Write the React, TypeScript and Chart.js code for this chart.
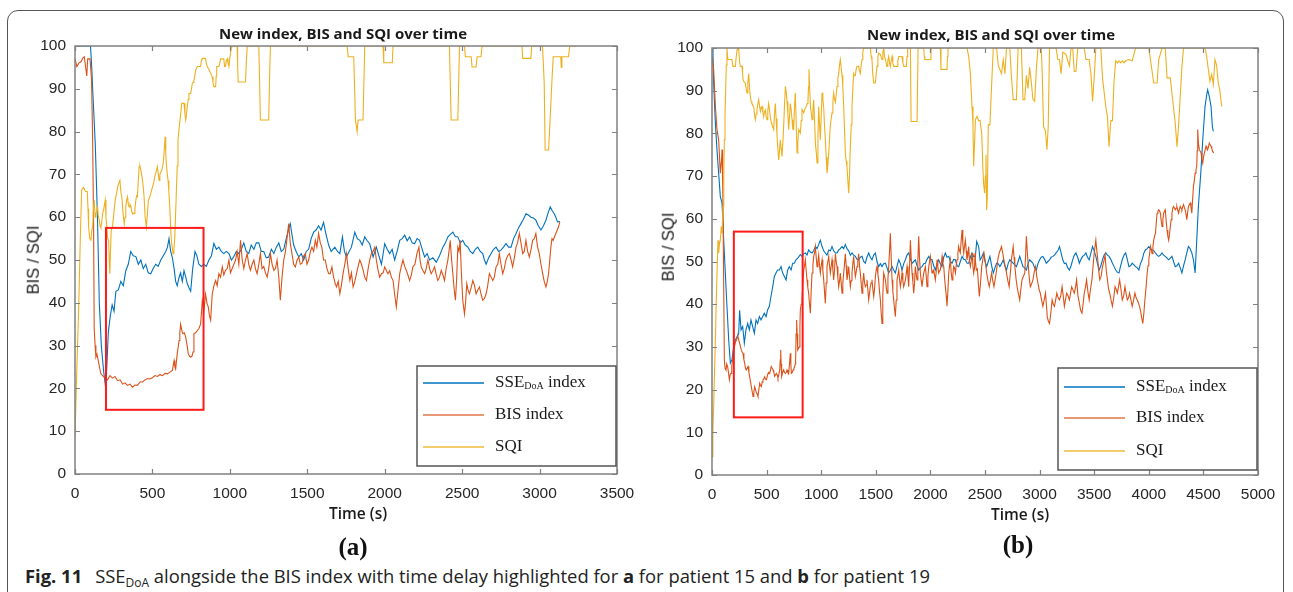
import React, { useEffect, useRef } from "react";
import { Chart, registerables } from "chart.js";

Chart.register(...registerables);

type Pt = [number, number];

// ---------------- Patient 15 (panel a) ----------------
const sse15: Pt[] = [[0,100],[100,100],[108,95],[114,90],[131,77],[145,60],[157,40],[170,30],[185,24],[195,21],[203,23],[215,33],[228,37],[240,39.5],[252,38],[264,42.7],[280,43],[296,45],[312,44],[328,47.5],[344,49],[360,52],[376,51],[393,50.8],[409,49],[425,50],[441,48],[457,49],[473,47],[489,46.8],[505,48],[521,49],[537,48.5],[554,50],[570,51],[586,52],[597,53],[607,55],[618,52],[629,50.5],[640,48],[650,45],[660,44],[671,45.8],[682,47],[693,45],[704,47.5],[715,46],[725,44.5],[736,43.5],[747,42.7],[760,48],[775,52],[787,51],[800,49],[816,48.5],[832,49],[848,48.5],[865,50],[881,51],[897,53.9],[913,52.5],[929,53],[945,52],[961,51.5],[977,52],[994,51.5],[1010,50],[1026,50.8],[1042,52],[1058,51.5],[1074,52.5],[1090,54],[1106,52],[1122,51.5],[1138,53.5],[1155,52.5],[1171,54],[1187,54],[1203,52],[1219,52],[1235,50.5],[1251,50.7],[1268,52.5],[1284,51.5],[1300,53],[1316,54],[1332,52],[1348,52.5],[1364,55],[1380,57.3],[1390,58.5],[1401,56],[1412,53.5],[1428,52],[1445,50.7],[1461,51.5],[1477,50],[1493,52],[1509,52.5],[1525,55],[1541,56.5],[1557,57],[1573,58],[1589,57],[1605,58.8],[1621,56],[1638,53.5],[1654,52],[1678,53],[1695,52],[1710,51.5],[1727,55.4],[1740,52],[1753,50.7],[1770,52],[1785,53],[1807,56.5],[1823,55],[1839,54.6],[1855,53.5],[1871,55.4],[1887,54.5],[1903,53.8],[1925,50.7],[1946,53],[1962,51],[1979,49],[2000,53.8],[2016,52.5],[2032,51.5],[2048,52.5],[2064,50],[2080,52],[2097,54.6],[2113,55],[2129,55.8],[2145,54.5],[2161,55.4],[2177,54],[2193,53.8],[2209,55],[2225,54.6],[2242,52.5],[2258,50.7],[2274,51.5],[2290,50],[2311,50.5],[2333,49.5],[2354,51],[2376,53],[2392,54],[2408,55.4],[2424,56],[2440,56.5],[2456,55.5],[2472,55.4],[2488,54],[2504,54.6],[2520,53.5],[2537,53],[2553,52],[2569,51.5],[2585,52.5],[2601,53],[2617,52],[2633,51.5],[2644,50],[2655,49],[2671,50.5],[2687,51.5],[2703,52.5],[2719,53],[2735,52],[2751,52.3],[2767,53],[2783,53.8],[2800,53],[2816,53],[2832,55],[2848,56.2],[2864,57.5],[2880,58.5],[2896,59.5],[2912,60.8],[2928,60.5],[2944,60],[2960,59.8],[2976,59.3],[2992,58],[3009,57],[3025,58],[3041,59.3],[3055,61],[3069,62.4],[3082,61.5],[3095,60.8],[3105,60],[3116,58.9],[3131,59]];

const bis15: Pt[] = [[0,97],[12,95.2],[25,96],[39,96.3],[50,97.2],[60,97.5],[71,94.4],[76,93],[82,97],[97,97],[107,92],[114,78],[120,58.5],[124,34],[130,30],[135,27.3],[142,28],[150,26.5],[158,25],[167,23.4],[178,23],[189,22.6],[200,22],[210,22],[226,23],[242,22.4],[258,22.8],[275,21.8],[291,22],[307,21],[323,21.3],[339,20.7],[355,21],[371,20.3],[387,20.8],[403,20.7],[420,21.5],[436,21.5],[452,22],[468,22.3],[484,22.2],[500,22.5],[516,23],[532,22.8],[548,23.2],[565,23],[581,23.5],[597,23.4],[613,23.8],[629,24.2],[635,25.5],[640,26.5],[645,25],[650,24.5],[660,28],[672,31.2],[677,33],[682,35],[690,33.5],[697,32.8],[706,33],[715,32],[724,30],[732,28],[740,27.5],[747,27.3],[755,27.5],[762,28.5],[768,32.8],[779,33],[790,33.5],[800,34],[811,35],[822,40.5],[832,38],[843,42],[852,40],[861,39],[868,37],[876,35.9],[886,42],[897,44],[908,45.2],[918,44],[929,46.8],[940,46],[951,48.4],[961,46.5],[972,47.6],[983,48],[994,50],[1004,47],[1015,48],[1026,49],[1037,50],[1047,52],[1058,49],[1069,54.6],[1080,50],[1090,48],[1101,50],[1112,51.5],[1122,49],[1133,47.6],[1144,49],[1155,50],[1165,48],[1176,46.8],[1187,49],[1197,51.5],[1208,48],[1219,48.5],[1230,47],[1241,46],[1251,48],[1262,51.5],[1273,49],[1284,47.6],[1294,48],[1305,50],[1316,46],[1326,40.6],[1337,46],[1348,50],[1359,52],[1369,55],[1380,58.5],[1390,54],[1401,51.5],[1412,49],[1423,48.4],[1434,50],[1445,50.7],[1455,49],[1466,49.2],[1477,51],[1487,51.5],[1498,49],[1509,50],[1520,52],[1530,53],[1541,52],[1552,54.6],[1562,53],[1573,56.2],[1584,54],[1594,53],[1605,50],[1616,50],[1627,48],[1638,46.8],[1648,46.8],[1659,48.4],[1670,46],[1680,44.5],[1689,43.7],[1700,45],[1710,42.1],[1720,44],[1731,46.8],[1742,49],[1753,51.5],[1764,48],[1775,45.2],[1785,47],[1796,43.7],[1807,45],[1818,46.8],[1828,48.5],[1839,50],[1850,49],[1861,47.6],[1871,46],[1882,45.2],[1893,48],[1903,50],[1914,51.5],[1925,52],[1936,53],[1946,50],[1957,47.6],[1968,46],[1979,46.8],[1990,47],[2000,48.4],[2011,47.5],[2021,46.8],[2032,47.5],[2043,46],[2054,45.2],[2064,42],[2075,39],[2086,43],[2097,46.8],[2107,48.5],[2118,50],[2129,48.5],[2139,47.6],[2150,46.5],[2161,45.2],[2172,46.5],[2182,48.4],[2195,49],[2208,51.5],[2221,53],[2228,50],[2236,48.4],[2247,47.5],[2258,46.8],[2268,48],[2279,50],[2290,48],[2300,46.8],[2311,47.5],[2322,48.4],[2333,46.5],[2343,45.2],[2354,46],[2365,47.6],[2376,46.5],[2386,45.2],[2397,48],[2408,50],[2415,52],[2423,54.6],[2432,50],[2440,46.8],[2449,43],[2457,40.6],[2465,46],[2472,53],[2480,52],[2487,54.6],[2495,47],[2504,40.6],[2515,37.4],[2522,40],[2530,44.5],[2538,43],[2547,42.1],[2558,43.5],[2569,45.2],[2580,44],[2590,42.1],[2601,43],[2612,43.7],[2622,42],[2633,40.6],[2644,41],[2655,42.1],[2665,44],[2676,46.8],[2687,46],[2698,45.2],[2708,46],[2719,48.4],[2730,49],[2740,51.5],[2751,49],[2762,46.8],[2772,48],[2783,50],[2794,51],[2805,51.5],[2816,50],[2826,48.4],[2837,50.5],[2848,53],[2858,54],[2869,56.2],[2880,54],[2891,51.5],[2901,52],[2912,54.6],[2923,52],[2934,50.7],[2945,52.5],[2955,54.6],[2966,55],[2976,56.2],[2987,53],[2998,51.5],[3009,49],[3020,46.8],[3030,45],[3041,43.7],[3050,45],[3058,46.8],[3066,50],[3073,53],[3080,55],[3088,54.6],[3097,55.5],[3105,56.2],[3114,57],[3122,57.7],[3131,58.9]];

const sqi15: Pt[] = [[0,8.6],[11,23.4],[24,39],[34,54.6],[43,66.3],[54,67],[62,66.5],[67,66],[79,66],[84,62],[88,57.7],[95,55],[103,54.6],[108,57],[114,57.7],[119,62],[124,64],[130,60],[135,60.8],[140,61.5],[146,62.4],[151,60],[157,59.3],[162,58],[167,57.5],[173,59],[178,60.8],[186,62],[195,64],[200,60],[206,57.7],[211,55],[217,54.6],[221,50],[225,46.8],[229,52],[234,57],[242,57.7],[251,61],[260,64],[268,65.5],[275,67],[283,68],[290,68.6],[296,66],[303,64.5],[310,61],[318,58.5],[323,60],[328,62.4],[333,64],[339,64.8],[344,63],[350,62.4],[355,63],[361,62.5],[366,61.5],[371,60.8],[377,61],[382,60.8],[387,62],[393,64],[398,65],[403,64.8],[408,68],[414,71.8],[419,72],[425,71],[430,70],[436,68.6],[441,67],[446,64.8],[453,60],[461,57.7],[468,61],[474,64],[480,64.5],[485,65],[492,66],[500,67],[508,68],[515,69.5],[521,70.2],[527,71],[532,71.8],[538,70],[543,68.6],[548,70],[554,70.5],[561,71],[569,72.5],[575,75],[582,78.8],[586,75],[590,72.5],[596,70],[601,68.6],[606,66],[612,62.4],[617,58],[622,54.6],[628,53],[633,51.5],[638,52],[644,55],[649,60],[654,65.5],[660,72],[665,78],[670,80],[676,81.9],[682,84],[689,86.6],[697,86.6],[704,86.6],[710,84],[715,82.7],[720,84],[725,86],[731,87.5],[736,88.9],[741,88.9],[747,88.9],[752,90],[758,91.3],[763,91.5],[768,92],[774,93],[779,94.4],[785,94.8],[790,95.2],[800,95.2],[811,95.2],[816,96.5],[822,97.1],[832,97.1],[843,97.1],[848,96],[854,95.2],[865,94.5],[876,93.6],[886,92.8],[891,91.5],[897,90.5],[908,90.5],[912,93],[915,95.2],[929,95.2],[935,96],[940,97],[961,97],[966,95.2],[972,95.2],[977,96.5],[983,97],[988,96],[994,95.2],[999,97],[1004,98.3],[1010,99.5],[1015,100],[1047,100],[1050,96],[1054,91.6],[1101,91.6],[1106,96],[1112,100],[1187,100],[1192,92],[1197,82.7],[1251,82.7],[1256,92],[1262,100],[1757,100],[1764,97.5],[1800,97.5],[1811,82.7],[1822,80],[1828,82.7],[1860,82.7],[1871,100],[1989,100],[1994,96.1],[2049,96.1],[2054,100],[2418,100],[2429,82.7],[2472,82.7],[2483,100],[2515,100],[2521,97.5],[2558,97.5],[2564,95.1],[2590,95.1],[2597,97.5],[2622,97.5],[2629,100],[2886,100],[2891,97.1],[2944,97.1],[2949,100],[3019,100],[3030,91.3],[3036,75.7],[3058,75.7],[3067,82],[3080,92],[3088,97.5],[3137,97.5],[3140,95],[3144,97.5],[3187,97.5],[3195,100],[3235,100]];

// ---------------- Patient 19 (panel b) ----------------
const sse19: Pt[] = [[0,100],[9,98.8],[15,91.8],[31,82.4],[46,76],[61,70.7],[76,65.2],[92,63.7],[107,55],[122,47.3],[137,39.5],[153,31.6],[168,26.2],[183,27],[198,30],[214,31.6],[229,32.4],[244,33],[253,38.6],[266,34],[281,34.8],[296,30.9],[311,34],[327,35.5],[342,34],[357,36.3],[372,34.8],[388,33.2],[403,36.3],[418,35.5],[434,37.1],[449,36.3],[464,37.1],[479,37.9],[495,37.1],[510,38.7],[525,39.5],[540,41.8],[556,44.1],[571,46.5],[586,47.3],[601,48],[617,48],[632,48.8],[647,47.3],[663,46.5],[678,45.7],[693,48],[708,48.8],[724,48],[739,49.6],[754,49.6],[769,50.4],[785,50.8],[809,51.6],[824,51.2],[840,51.8],[855,52],[870,51.5],[885,52.7],[901,52.2],[916,52],[931,52.5],[947,53.5],[962,53],[977,54],[992,55],[1008,53.5],[1023,52.5],[1038,52],[1053,51.5],[1069,52.7],[1084,52.5],[1099,53.5],[1114,52.5],[1130,52],[1145,52],[1160,52.7],[1175,53],[1191,53.5],[1206,53],[1221,54],[1236,53],[1252,52.5],[1267,51.5],[1282,52],[1297,51.5],[1313,51.2],[1328,50.5],[1343,50.4],[1358,51],[1374,51.2],[1389,50],[1404,49.6],[1419,51],[1435,52],[1450,51],[1465,50.4],[1481,51.5],[1496,52],[1511,50],[1526,48.8],[1542,49.5],[1557,48.8],[1572,49.5],[1588,49.6],[1603,48.5],[1618,47.3],[1634,48],[1649,48.8],[1664,48],[1679,47.3],[1695,49],[1710,50.4],[1725,49.5],[1740,48],[1756,49.5],[1771,50.4],[1786,51.5],[1801,52],[1817,50.5],[1832,49.6],[1847,50],[1862,50.4],[1878,49],[1893,48],[1908,48.5],[1923,48.8],[1939,49.5],[1954,49.6],[1969,50.5],[1985,51.2],[2000,50.5],[2015,50.4],[2030,49],[2045,48],[2061,49.5],[2076,50.4],[2091,49.5],[2106,48.8],[2122,51],[2137,52],[2152,51],[2168,51.2],[2183,50],[2198,49.6],[2213,50.5],[2229,50.4],[2244,49],[2259,48.8],[2274,50],[2290,51.2],[2305,50.5],[2320,50.4],[2336,49.6],[2351,49.6],[2366,51],[2381,52],[2396,51.2],[2412,51.2],[2424,54.7],[2442,53.5],[2455,50.4],[2470,51],[2485,52],[2500,50],[2515,48.8],[2530,50],[2545,51.2],[2561,49],[2576,47.3],[2591,48.5],[2606,49.6],[2621,49.5],[2636,48.8],[2651,49.5],[2667,50.4],[2682,49],[2697,48],[2712,49.5],[2727,50.4],[2742,50],[2758,49.6],[2773,49.2],[2788,48.8],[2803,50],[2818,51.2],[2833,50],[2848,48.8],[2864,48.5],[2879,48],[2894,49.5],[2909,50.4],[2924,50],[2939,49.6],[2955,48.5],[2970,48],[2985,49.5],[3000,50.4],[3015,51],[3030,51.2],[3046,50.5],[3061,49.6],[3076,50],[3091,50.4],[3106,51],[3121,51.2],[3136,51.5],[3151,52],[3167,52.5],[3182,53.5],[3197,52],[3212,50.4],[3227,49.5],[3242,49.6],[3258,48.5],[3273,48],[3288,49],[3303,50.4],[3318,51.5],[3333,52],[3349,51],[3364,49.6],[3379,50.5],[3394,51.2],[3409,51.5],[3424,52],[3439,51],[3454,50.4],[3470,52],[3485,53.5],[3500,52.5],[3515,51.2],[3530,49.5],[3545,48],[3561,49],[3576,50.4],[3591,51.5],[3606,52],[3621,51.5],[3636,51.2],[3652,50.5],[3667,49.6],[3682,48.8],[3697,48],[3712,47.5],[3727,47.3],[3742,49],[3757,50.4],[3773,51.5],[3788,52],[3803,50.5],[3818,48.8],[3833,49],[3848,49.6],[3864,49.2],[3879,48.8],[3894,48.5],[3909,48],[3924,49.5],[3939,50.4],[3955,52],[3970,52.7],[3985,53],[4000,53.5],[4015,53],[4030,52.7],[4046,52.5],[4061,52],[4076,51.5],[4091,51.2],[4106,51.5],[4121,52],[4136,51.5],[4151,51.2],[4167,50.8],[4182,50.4],[4197,50.8],[4212,51.2],[4227,50],[4242,48.8],[4258,49],[4273,49.6],[4288,48.5],[4303,47.3],[4318,49],[4333,50.4],[4348,52],[4363,53.5],[4379,53],[4394,52],[4409,50.4],[4424,47.3],[4439,55],[4454,62.9],[4476,70.7],[4494,78.5],[4515,86.3],[4530,89],[4539,90.2],[4554,88.6],[4570,86.3],[4582,81.6],[4591,80.5]];

const bis19: Pt[] = [[0,98],[15,95],[31,86.3],[46,80.8],[61,78.5],[76,70.7],[88,74],[92,76.2],[98,68],[101,62.9],[113,27],[120,25],[128,24.6],[135,26],[143,25.4],[151,24],[159,22.3],[166,23.5],[174,23.8],[181,25.5],[189,27],[197,28.5],[205,30],[214,31],[223,31.6],[231,32.2],[238,32.4],[246,31.5],[253,30.9],[261,30],[269,29.3],[276,28.8],[284,28.5],[292,27],[299,26.2],[307,25],[314,24.6],[322,25],[330,25.4],[338,24],[345,23],[352,22],[360,20.7],[368,19.5],[376,18.4],[383,19.5],[391,20.7],[399,20],[406,19.2],[414,19],[421,18.4],[429,20],[437,21.5],[444,21],[452,20.7],[460,21.8],[467,22.3],[475,22.5],[482,23],[490,22.5],[498,22.3],[505,23],[513,23.8],[520,24],[528,23.8],[536,24.6],[543,25.4],[551,25],[559,24.6],[566,24],[574,23.1],[582,23.5],[589,23.8],[597,23.5],[604,22.7],[612,23.5],[620,24.6],[625,27],[629,29.3],[633,26],[638,23.1],[647,24],[656,24.6],[664,24],[672,23.8],[680,24],[687,24.6],[695,24],[702,23.8],[710,26],[717,28.5],[722,26],[727,23.8],[735,24],[742,24.6],[750,25],[757,25.4],[762,26],[766,27],[770,33],[775,36.3],[780,33],[785,29.3],[792,29.7],[800,30],[805,35],[809,38.7],[817,40],[824,41],[832,45],[840,48],[847,49],[855,50.4],[862,48],[870,45.7],[877,44],[885,42.6],[893,40],[901,37.9],[908,43],[916,47.3],[924,49],[931,51.2],[939,52],[947,53.5],[954,51],[962,48.8],[970,50],[977,51.5],[985,49],[992,47.3],[1000,49],[1008,50.4],[1015,48],[1023,45.7],[1030,43],[1038,40.2],[1046,45],[1053,48.8],[1061,50],[1069,51.2],[1076,49],[1084,47.3],[1092,49],[1099,50.4],[1107,48],[1114,45.7],[1122,48],[1130,51.8],[1137,50],[1145,48.8],[1153,46],[1160,44.1],[1168,45.5],[1175,47.3],[1183,45],[1191,42.6],[1198,45],[1206,47.3],[1214,49.5],[1221,51.8],[1229,49],[1236,45.7],[1244,47],[1252,48.8],[1259,46.5],[1267,44.1],[1274,45.5],[1282,47.3],[1290,49.5],[1297,51.2],[1305,48.5],[1313,46.5],[1320,47.5],[1328,48.8],[1335,50],[1343,51.8],[1351,49],[1358,47.3],[1366,45],[1374,42.6],[1381,45],[1389,47.3],[1397,45],[1404,44.1],[1412,44.5],[1419,45.7],[1427,43.5],[1435,41],[1442,42.5],[1450,44.1],[1458,45],[1465,45.7],[1473,43.5],[1481,41.8],[1488,43.5],[1496,46.5],[1504,48],[1511,48.8],[1519,47],[1526,45.7],[1534,43],[1542,41],[1549,38],[1557,35.5],[1564,42],[1572,47.3],[1580,46.5],[1588,45.7],[1595,44],[1603,42.6],[1611,46],[1618,48.8],[1626,52.5],[1633,56.6],[1641,51],[1649,45.7],[1656,43],[1664,41],[1671,39],[1679,37.1],[1687,41],[1694,45.7],[1702,46.8],[1710,48],[1717,46],[1725,44.1],[1733,45.5],[1740,47.3],[1748,45.5],[1755,44.1],[1763,44.8],[1771,45.7],[1778,47],[1786,48.8],[1794,46.5],[1801,44.1],[1809,49],[1817,55],[1824,51],[1832,47.3],[1840,45],[1847,42.6],[1855,45],[1862,48.8],[1870,47],[1878,45.7],[1885,50],[1893,55.9],[1900,51],[1908,47.3],[1916,45.5],[1923,44.1],[1931,45.7],[1939,47.3],[1946,48],[1954,48.8],[1962,46.5],[1969,44.1],[1977,46.5],[1985,48.8],[1992,50],[2000,51.2],[2008,49],[2015,47.3],[2023,47.8],[2030,48],[2038,46.8],[2045,45.7],[2053,47.5],[2061,50.4],[2068,48.8],[2076,47.3],[2084,47.8],[2091,48],[2099,49.5],[2107,51.2],[2114,49.5],[2122,48.8],[2130,46],[2137,44.1],[2145,42],[2152,39.5],[2160,43],[2168,47.3],[2175,49],[2183,50.4],[2190,47.5],[2198,45.7],[2206,47],[2213,48.8],[2221,48.5],[2229,47.3],[2236,49],[2244,50.4],[2252,52],[2259,53.5],[2267,52.5],[2274,52],[2282,55],[2290,57.4],[2297,54],[2305,52],[2312,53.5],[2320,55],[2328,52.5],[2335,50.4],[2343,51.5],[2351,53.5],[2358,50],[2366,48.8],[2373,50],[2381,52],[2388,49.5],[2396,47.3],[2404,48.5],[2409,52],[2412,50.4],[2420,48],[2430,48.3],[2439,45],[2448,41.8],[2459,45],[2470,48.8],[2480,50.5],[2491,52],[2503,50],[2515,47.3],[2527,45.5],[2539,44.1],[2550,45.7],[2561,47.3],[2571,45.5],[2582,44.1],[2594,46],[2606,48],[2618,50.5],[2630,52],[2640,52.7],[2651,53.5],[2662,52],[2673,50.4],[2685,48.8],[2697,47.3],[2709,45.5],[2721,44.1],[2731,47],[2742,50.4],[2750,52],[2758,53.5],[2766,51],[2773,49],[2784,46],[2794,44.1],[2806,42.5],[2818,41],[2828,43.5],[2839,45.7],[2851,46.5],[2864,47.3],[2871,51],[2879,55.9],[2888,52],[2897,48.8],[2906,46],[2915,44.1],[2927,44.8],[2939,45.7],[2951,47.5],[2964,48.8],[2974,46.5],[2985,44.9],[2995,43.5],[3006,42.6],[3018,41],[3030,39.5],[3042,41],[3054,42.6],[3062,40],[3070,37.1],[3080,36],[3091,35.5],[3103,38],[3115,41],[3125,40],[3136,39.5],[3147,41],[3158,42.6],[3170,41.5],[3182,41],[3194,42],[3206,44.1],[3216,42],[3227,39.5],[3237,41],[3248,42.6],[3260,42],[3273,41],[3283,42.5],[3294,44.1],[3306,43.3],[3318,42.6],[3329,44],[3339,45.7],[3351,42],[3364,40.3],[3376,38.5],[3388,37.9],[3398,40],[3409,42.6],[3420,44],[3430,45.7],[3442,43],[3454,41],[3466,43.5],[3479,45.7],[3490,49],[3500,52],[3515,55],[3524,52.5],[3533,50.4],[3542,47.5],[3551,45.7],[3563,46.5],[3576,48.8],[3588,50],[3600,51.5],[3610,48],[3621,45.7],[3632,43.5],[3642,42.6],[3654,41],[3667,39.5],[3679,41.5],[3691,44.1],[3701,43.5],[3712,42.6],[3722,44],[3733,45.7],[3745,43.5],[3757,41],[3770,42],[3782,44.1],[3792,42.5],[3803,41],[3814,41.5],[3824,42.6],[3836,41],[3848,39.5],[3861,41],[3873,42.6],[3884,41.5],[3894,41],[3905,40.3],[3915,39.5],[3924,38.5],[3933,37.1],[3939,36.3],[3945,35.5],[3955,38],[3964,41],[3975,44],[3985,47.3],[3993,49],[4000,50.4],[4008,52],[4015,53.5],[4023,52.7],[4030,51.8],[4038,53.5],[4045,55],[4053,56],[4061,56.6],[4068,59],[4076,61.3],[4084,61.8],[4091,62.1],[4099,61.8],[4106,61.3],[4114,59.5],[4121,58.2],[4129,59.8],[4136,61.3],[4144,61.8],[4151,62.1],[4159,59.5],[4167,57.4],[4174,56],[4182,55],[4190,56.5],[4197,58.2],[4205,59.8],[4212,61.3],[4220,62.5],[4227,62.9],[4235,62.5],[4242,62.1],[4250,62.5],[4257,62.9],[4265,62],[4273,61.3],[4280,62.2],[4288,62.9],[4295,62.5],[4303,62.1],[4310,62.8],[4318,63.3],[4325,62.7],[4333,62.1],[4341,61],[4348,59.8],[4356,61.5],[4363,62.9],[4371,63.3],[4379,63.7],[4386,62.8],[4394,61.3],[4401,64.5],[4409,67.6],[4417,69],[4424,70.7],[4432,71.5],[4439,72.3],[4443,76],[4448,80.9],[4455,77.5],[4463,76.2],[4471,75.8],[4479,75.4],[4486,74],[4494,73],[4501,74.5],[4509,75.4],[4516,76.2],[4524,77],[4531,76.5],[4539,76.2],[4546,76.8],[4554,77.7],[4562,77.3],[4570,77],[4577,76.4],[4585,75.8],[4594,75.4]];

const sqi19: Pt[] = [[0,4.3],[8,10],[15,16],[23,24],[31,31.6],[38,40],[46,47.3],[55,55],[61,52],[68,54],[76,55],[85,58.2],[92,56.6],[101,62.9],[108,70],[113,78.5],[119,84],[125,90.2],[131,96],[137,100],[145,97.3],[183,97.3],[192,95.7],[214,95.7],[222,98],[229,99.6],[237,100],[244,100],[252,97],[259,95.7],[275,95.7],[280,94],[284,92.6],[295,92],[305,91.8],[313,90.5],[321,89.5],[328,92],[336,94],[343,91],[351,88.5],[359,87.5],[366,87],[374,86.6],[382,86.3],[389,84.5],[397,83.2],[404,84.5],[412,85.6],[420,87],[427,87.9],[435,86.5],[443,85.2],[450,86],[458,86.3],[465,85],[473,83.9],[480,85],[488,85.5],[496,84],[504,83.2],[511,85.5],[519,87],[527,85.5],[534,83.9],[542,82.5],[549,82],[557,81.5],[565,80.9],[572,84.5],[580,87],[587,83.5],[595,79.7],[603,76.5],[611,73.8],[618,76],[626,78.5],[633,76.5],[641,74.6],[649,78],[656,81.6],[664,86.5],[672,91],[680,89.5],[687,87.5],[695,84.5],[702,80.9],[710,84],[717,87],[725,85.5],[733,83.2],[740,81],[748,80.9],[755,86],[763,89.5],[771,82.5],[779,75.4],[786,78],[794,80.9],[801,80.5],[809,80.1],[817,83],[824,85.6],[832,85.3],[840,84.8],[848,85.5],[855,86],[864,86.3],[872,87],[879,87.9],[884,91],[888,95],[894,91],[901,86.3],[909,84.8],[916,83.2],[924,85.5],[931,87.9],[939,83],[947,77.7],[955,75.5],[962,73.1],[970,79],[977,86.3],[985,82],[992,78.5],[1000,84],[1008,89.5],[1015,88],[1023,86],[1030,82],[1038,78.5],[1046,74.5],[1053,70.7],[1061,72.5],[1069,75.4],[1076,78.5],[1084,82],[1092,83.5],[1099,84.8],[1107,87.5],[1114,89.5],[1122,88],[1130,87.3],[1137,89],[1145,91],[1153,93],[1160,94],[1168,96],[1175,97.3],[1183,95.5],[1191,93.6],[1198,91],[1206,86.3],[1214,80.5],[1221,75.4],[1229,73.5],[1236,72.3],[1244,69],[1252,66],[1259,70],[1267,77.3],[1275,82],[1282,86.3],[1290,90.5],[1297,94],[1305,93.5],[1313,93.6],[1320,95],[1328,95.7],[1343,95.7],[1351,94.5],[1358,94],[1366,96],[1374,97.3],[1381,99],[1389,100],[1450,100],[1458,98],[1465,97.3],[1472,94],[1481,91.8],[1496,91.8],[1504,94],[1511,95.7],[1519,98],[1526,98.8],[1542,98.5],[1557,97.3],[1565,99],[1572,100],[1580,98],[1588,97.3],[1595,96.5],[1603,95.7],[1610,97],[1618,98],[1626,96.5],[1633,95.7],[1641,97],[1649,98],[1656,96.5],[1664,95.7],[1695,95.7],[1702,97],[1710,98],[1740,98],[1748,96.5],[1756,95.7],[1780,95.7],[1786,98],[1792,100],[1817,100],[1823,82.8],[1878,82.8],[1887,100],[1939,100],[1944,98],[1948,97.3],[2000,97.3],[2005,99],[2009,100],[2091,100],[2097,95],[2152,95],[2157,98],[2161,100],[2335,100],[2351,98],[2366,94],[2381,86.3],[2390,82],[2396,72.3],[2405,78],[2412,83.2],[2427,84],[2442,83],[2455,83],[2470,80],[2480,72],[2488,68],[2497,66],[2503,70],[2509,75],[2515,62],[2521,65],[2530,82],[2545,82],[2560,91],[2576,100],[2606,100],[2621,96],[2651,94],[2667,97.3],[2682,94],[2697,100],[2727,100],[2742,93.4],[2758,87.9],[2788,87.9],[2803,100],[2833,100],[2848,87.9],[2864,87.9],[2879,93.6],[2894,90.5],[2909,95.5],[2924,92],[2939,88],[2955,87.5],[2970,95],[2985,100],[3015,100],[3024,94],[3036,81.6],[3054,80.5],[3067,76.2],[3079,81.6],[3091,100],[3151,100],[3167,97.3],[3182,97.3],[3197,94],[3212,99],[3242,98.5],[3258,97],[3273,95.8],[3288,100],[3303,100],[3318,94.5],[3333,94.5],[3349,100],[3409,100],[3424,97.3],[3454,97.3],[3470,94],[3485,87.5],[3500,93],[3515,100],[3561,100],[3576,93],[3606,86.3],[3621,84],[3636,76.9],[3652,83],[3667,83],[3682,92.4],[3697,97],[3712,96.5],[3727,97],[3742,96.5],[3757,97],[3773,96.5],[3788,97],[3818,97.3],[3848,97],[3879,100],[4000,100],[4015,97.3],[4045,91.8],[4076,91.8],[4091,97.3],[4121,100],[4151,100],[4167,93],[4197,93],[4218,88],[4242,82.5],[4258,76.9],[4273,82],[4303,95.5],[4318,100],[4515,100],[4530,98],[4545,95],[4560,92.2],[4576,93.8],[4591,91.5],[4606,97.3],[4621,96],[4636,91.8],[4651,90],[4667,86.3]];

// axes / annotations
const yTickStep = 10;
const xTickStep = 500;
const xMax15 = 3500;
const xMax19 = 5000;
const highlight15 = [200, 830, 15, 57.5];
const highlight19 = [200, 830, 13.5, 57];
const seriesNames = ["SSE", "BIS index", "SQI"];
const panelTitle = "New index, BIS and SQI over time";
const xTitle = "Time (s)";
const yTitle = "BIS / SQI";

const BLUE = "rgb(0,114,189)";
const ORANGE = "rgb(217,83,25)";
const YELLOW = "rgb(237,177,32)";

const toXY = (a: Pt[]) => a.map(([x, y]) => ({ x, y }));

const matlabPlugin = {
  id: "matlabBox",
  afterDatasetsDraw(chart: any, _args: any, opts: any) {
    const { ctx, chartArea: ca, scales } = chart;
    const xs = scales.x;
    const ys = scales.y;
    ctx.save();
    // highlight rectangle
    const [hx0, hx1, hy0, hy1] = opts.highlight;
    const rx0 = xs.getPixelForValue(hx0);
    const rx1 = xs.getPixelForValue(hx1);
    const ry0 = ys.getPixelForValue(hy1);
    const ry1 = ys.getPixelForValue(hy0);
    ctx.strokeStyle = "#ff1a1a";
    ctx.lineWidth = 2;
    ctx.strokeRect(rx0, ry0, rx1 - rx0, ry1 - ry0);
    // box
    ctx.strokeStyle = "#808080";
    ctx.lineWidth = 1.5;
    ctx.strokeRect(ca.left, ca.top, ca.width, ca.height);
    ctx.lineWidth = 1.2;
    const tl = 5;
    ctx.beginPath();
    xs.ticks.forEach((t: any) => {
      const px = Math.round(xs.getPixelForValue(t.value)) + 0.5;
      ctx.moveTo(px, ca.bottom);
      ctx.lineTo(px, ca.bottom - tl);
      ctx.moveTo(px, ca.top);
      ctx.lineTo(px, ca.top + tl);
    });
    ys.ticks.forEach((t: any) => {
      const py = Math.round(ys.getPixelForValue(t.value)) + 0.5;
      ctx.moveTo(ca.left, py);
      ctx.lineTo(ca.left + tl, py);
      ctx.moveTo(ca.right, py);
      ctx.lineTo(ca.right - tl, py);
    });
    ctx.stroke();
    // legend
    const lg = opts.legend;
    const bl = ca.right - lg.fromRight;
    const bt = ca.bottom - lg.fromBottom;
    ctx.fillStyle = "#ffffff";
    ctx.fillRect(bl, bt, lg.width, lg.height);
    ctx.strokeStyle = "#555555";
    ctx.lineWidth = 1.5;
    ctx.strokeRect(bl, bt, lg.width, lg.height);
    const cols = ["rgba(0,114,189,0.75)", "rgba(217,83,25,0.6)", "rgba(237,177,32,0.65)"];
    lg.rows.forEach((ry: number, i: number) => {
      const y = bt + ry;
      ctx.strokeStyle = cols[i];
      ctx.lineWidth = 2;
      ctx.beginPath();
      ctx.moveTo(bl + 6, y);
      ctx.lineTo(bl + 67, y);
      ctx.stroke();
      ctx.fillStyle = "#1a1a1a";
      ctx.textBaseline = "middle";
      ctx.textAlign = "left";
      ctx.font = "17px 'Liberation Serif', 'Times New Roman', serif";
      let tx = bl + 78;
      if (i === 0) {
        ctx.fillText(seriesNames[0], tx, y);
        tx += ctx.measureText(seriesNames[0]).width;
        ctx.font = "10px 'Liberation Serif', 'Times New Roman', serif";
        ctx.fillText("DoA", tx, y + 3);
        tx += ctx.measureText("DoA").width;
        ctx.font = "17px 'Liberation Serif', 'Times New Roman', serif";
        ctx.fillText(" index", tx, y);
      } else {
        ctx.fillText(seriesNames[i], tx, y);
      }
    });
    ctx.restore();
  },
};

function makeChart(
  canvas: HTMLCanvasElement,
  sse: Pt[],
  bis: Pt[],
  sqi: Pt[],
  xMax: number,
  highlight: number[],
  padding: any,
  yWidth: number,
  xHeight: number,
  legend: any
) {
  const tickFont = { family: "'Liberation Sans', Arial, sans-serif", size: 15.5 };
  const plain = (v: any) => String(v);
  return new Chart(canvas, {
    type: "line",
    data: {
      datasets: [
        { label: "SQI", data: toXY(sqi) as any, borderColor: YELLOW, borderWidth: 1.1, pointRadius: 0, order: 0 },
        { label: "BIS index", data: toXY(bis) as any, borderColor: ORANGE, borderWidth: 1.1, pointRadius: 0, order: 1 },
        { label: "SSE index", data: toXY(sse) as any, borderColor: BLUE, borderWidth: 1.1, pointRadius: 0, order: 2 },
      ],
    },
    options: {
      animation: false,
      responsive: false,
      devicePixelRatio: 1,
      parsing: false as any,
      normalized: true,
      layout: { padding },
      plugins: {
        legend: { display: false },
        tooltip: { enabled: false },
        title: { display: false },
        matlabBox: { highlight, legend },
      } as any,
      scales: {
        x: {
          type: "linear",
          min: 0,
          max: xMax,
          grid: { display: false, drawTicks: false },
          border: { display: false },
          ticks: { stepSize: xTickStep, font: tickFont, color: "#262626", padding: 10, maxRotation: 0, autoSkip: false, callback: plain },
          afterFit: (s: any) => { s.height = xHeight; },
        },
        y: {
          type: "linear",
          min: 0,
          max: 100,
          grid: { display: false, drawTicks: false },
          border: { display: false },
          ticks: { stepSize: yTickStep, font: tickFont, color: "#262626", padding: 9, callback: plain },
          afterFit: (s: any) => { s.width = yWidth; },
        },
      },
    },
    plugins: [matlabPlugin],
  });
}

const abs = (extra: React.CSSProperties): React.CSSProperties => ({
  position: "absolute",
  whiteSpace: "nowrap",
  lineHeight: 1,
  ...extra,
});

const centered = (cx: number, cy: number, extra: React.CSSProperties): React.CSSProperties =>
  abs({ left: cx, top: cy, transform: "translate(-50%, -50%)", ...extra });

export default function App() {
  const leftRef = useRef<HTMLCanvasElement>(null);
  const rightRef = useRef<HTMLCanvasElement>(null);

  useEffect(() => {
    const c1 = makeChart(leftRef.current!, sse15, bis15, sqi15, xMax15, highlight15,
      { top: 46, right: 28, bottom: 0, left: 0 }, 75, 36,
      { fromRight: 200, fromBottom: 108, width: 199, height: 100, rows: [17, 49, 81] });
    const c2 = makeChart(rightRef.current!, sse19, bis19, sqi19, xMax19, highlight19,
      { top: 48, right: 35, bottom: 0, left: 0 }, 67, 35,
      { fromRight: 200, fromBottom: 107, width: 199, height: 102, rows: [19, 50, 83] });
    return () => {
      c1.destroy();
      c2.destroy();
    };
  }, []);

  const titleFont: React.CSSProperties = { fontFamily: "'Open Sans', sans-serif", fontWeight: 700, fontSize: 15, color: "#1a1a1a" };
  const xTitleFont: React.CSSProperties = { fontFamily: "'Open Sans', sans-serif", fontWeight: 600, fontSize: 15.5, color: "#1a1a1a" };
  const yTitleFont: React.CSSProperties = { fontFamily: "'Liberation Sans', Arial, sans-serif", fontSize: 16.5, color: "#1a1a1a" };
  const panelFont: React.CSSProperties = { fontFamily: "'Liberation Serif', 'Times New Roman', serif", fontWeight: 700, fontSize: 25, color: "#111" };

  return (
    <div style={{ position: "absolute", left: 0, top: 0, width: 1293, height: 592, overflow: "hidden", background: "#fff" }}>
      <div style={{ position: "absolute", left: 7, top: 10, width: 1277, height: 640, border: "1.5px solid #555", borderRadius: 11, boxSizing: "border-box" }} />
      <canvas ref={leftRef} width={645} height={510} style={{ position: "absolute", left: 0, top: 0, width: 645, height: 510 }} />
      <canvas ref={rightRef} width={648} height={510} style={{ position: "absolute", left: 645, top: 0, width: 648, height: 510 }} />

      <div style={centered(343, 33, titleFont)}>{panelTitle}</div>
      <div style={centered(991, 34, titleFont)}>{panelTitle}</div>

      <div style={centered(33, 260, { ...yTitleFont, transform: "translate(-50%, -50%) rotate(-90deg)" })}>{yTitle}</div>
      <div style={centered(668, 247, { ...yTitleFont, transform: "translate(-50%, -50%) rotate(-90deg)" })}>{yTitle}</div>

      <div style={centered(358, 514, xTitleFont)}>{xTitle}</div>
      <div style={centered(1020, 515, xTitleFont)}>{xTitle}</div>

      <div style={centered(353, 546, panelFont)}>(a)</div>
      <div style={centered(1018, 544, panelFont)}>(b)</div>

      <div style={abs({ left: 25, top: 567, fontFamily: "'Open Sans', sans-serif", fontSize: 18.4, color: "#222" })}>
        <b>Fig. 11</b>
        <span style={{ marginLeft: 13 }}>
          SSE<sub style={{ fontSize: 12, verticalAlign: "-4px", lineHeight: 0 }}>DoA</sub> alongside the BIS index with time delay highlighted for <b>a</b> for patient 15 and <b>b</b> for patient 19
        </span>
      </div>
    </div>
  );
}
